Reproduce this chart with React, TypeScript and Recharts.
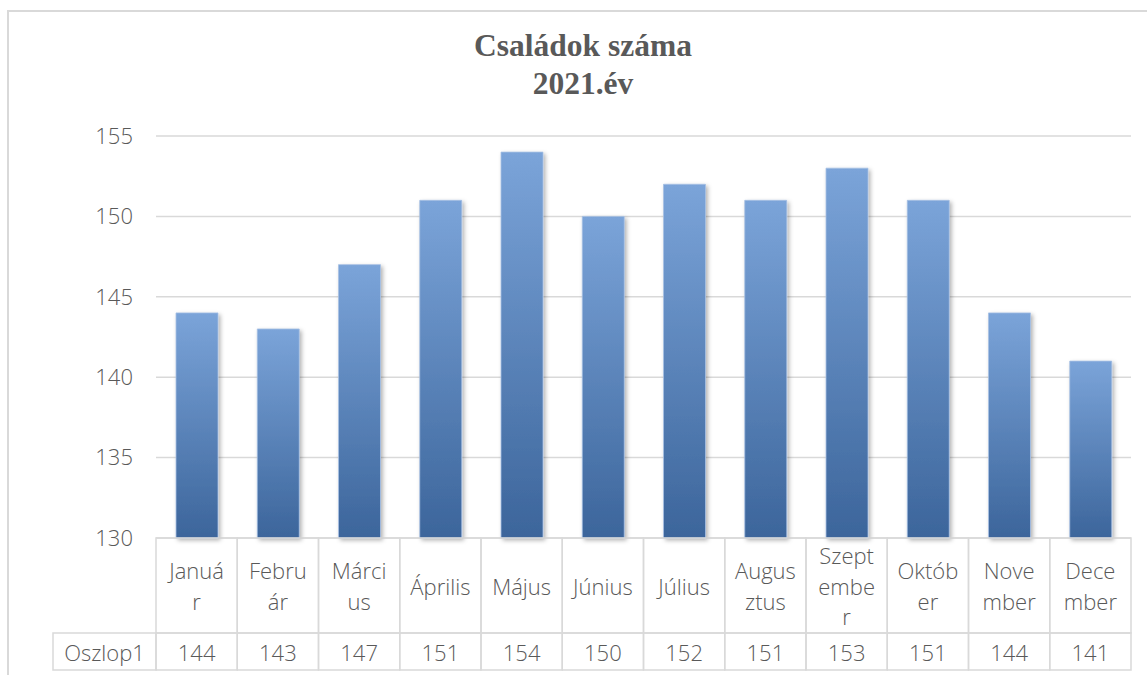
import React from 'react';
import { BarChart, Bar, XAxis, YAxis, CartesianGrid } from 'recharts';

const titleLines = ['Családok száma', '2021.év'];
const categories = ['Január', 'Február', 'Március', 'Április', 'Május', 'Június', 'Július', 'Augusztus', 'Szeptember', 'Október', 'November', 'December'];
const categoryLines = [
  ['Januá', 'r'], ['Febru', 'ár'], ['Márci', 'us'], ['Április'], ['Május'], ['Június'],
  ['Július'], ['Augus', 'ztus'], ['Szept', 'embe', 'r'], ['Októb', 'er'], ['Nove', 'mber'], ['Dece', 'mber'],
];
const seriesName = 'Oszlop1';
const values = [144, 143, 147, 151, 154, 150, 152, 151, 153, 151, 144, 141];
const yTicks = [130, 135, 140, 145, 150, 155];

const data = categories.map((c, i) => ({ month: c, value: values[i] }));

const TEXT = '#595959';
const GRID = '#d9d9d9';
const FONT = '"Open Sans", Lato, sans-serif';
const FS = 22;
const FW = 300;

const HEADER_H = 95;
const ROW_H = 37;
const LABEL_LEFT = 53;

function TableTick(props: any) {
  const { x, y, payload, index } = props;
  const w = typeof props.width === 'number' && props.width > 0 ? props.width : 975;
  const cw = w / categories.length;
  const left = x - cw / 2;
  const lines = categoryLines[index] || [payload.value];
  const centerY = y + HEADER_H / 2;
  const lh = 30.5;
  return (
    <g>
      <rect x={left} y={y} width={cw} height={HEADER_H} fill="none" stroke={GRID} strokeWidth={1.5} />
      <rect x={left} y={y + HEADER_H} width={cw} height={ROW_H} fill="none" stroke={GRID} strokeWidth={1.5} />
      <text textAnchor="middle" dominantBaseline="central" fill={TEXT} fontSize={FS} fontWeight={FW} fontFamily={FONT}>
        {lines.map((ln: string, k: number) => (
          <tspan key={k} x={x} y={centerY + (k - (lines.length - 1) / 2) * lh} dominantBaseline="central">
            {ln}
          </tspan>
        ))}
      </text>
      <text x={x} y={y + HEADER_H + ROW_H / 2} textAnchor="middle" dominantBaseline="central" fill={TEXT} fontSize={FS} fontWeight={FW} fontFamily={FONT}>
        {values[index]}
      </text>
      {index === 0 && (
        <g>
          <rect x={LABEL_LEFT} y={y + HEADER_H} width={left - LABEL_LEFT} height={ROW_H} fill="none" stroke={GRID} strokeWidth={1.5} />
          <text x={(LABEL_LEFT + left) / 2} y={y + HEADER_H + ROW_H / 2} textAnchor="middle" dominantBaseline="central" fill={TEXT} fontSize={FS} fontWeight={FW} fontFamily={FONT}>
            {seriesName}
          </text>
        </g>
      )}
    </g>
  );
}

export default function App() {
  return (
    <div style={{ position: 'absolute', left: 0, top: 0, width: 1147, height: 675, overflow: 'hidden', background: '#fff' }}>
      <div style={{ position: 'absolute', left: 7, top: 10, width: 1160, height: 680, border: `2px solid ${GRID}`, boxSizing: 'border-box' }} />
      <div style={{ position: 'absolute', left: 0, top: 0 }}>
        <BarChart width={1147} height={675} data={data} margin={{ top: 136, right: 16, bottom: 0, left: 0 }} barSize={42}>
          <defs>
            <linearGradient id="barGrad" x1="0" y1="0" x2="0" y2="1">
              <stop offset="0%" stopColor="#7ba4d9" />
              <stop offset="100%" stopColor="#3c659b" />
            </linearGradient>
            <filter id="barShadow" x="-20%" y="-5%" width="150%" height="115%">
              <feDropShadow dx="2" dy="2" stdDeviation="2" floodColor="#000" floodOpacity="0.3" />
            </filter>
          </defs>
          <CartesianGrid vertical={false} stroke={GRID} strokeWidth={1.5} />
          <YAxis
            type="number"
            domain={[130, 155]}
            ticks={yTicks}
            width={156}
            axisLine={false}
            tickLine={false}
            tickMargin={17}
            tick={{ fill: TEXT, fontSize: FS, fontWeight: FW, fontFamily: FONT }}
          />
          <XAxis
            dataKey="month"
            height={137}
            axisLine={false}
            tickLine={false}
            tickSize={0}
            tickMargin={0}
            interval={0}
            tick={<TableTick />}
          />
          <Bar dataKey="value" fill="url(#barGrad)" stroke="#a7c0e3" strokeWidth={0.8} filter="url(#barShadow)" isAnimationActive={false} />
        </BarChart>
      </div>
      {titleLines.map((t, i) => (
        <div key={i} style={{ position: 'absolute', left: 0, width: 1166, top: 27 + i * 38, textAlign: 'center', fontFamily: '"Liberation Serif", "DejaVu Serif", serif', fontWeight: 'bold', fontSize: 31.5, lineHeight: '38px', color: TEXT }}>
          {t}
        </div>
      ))}
    </div>
  );
}
